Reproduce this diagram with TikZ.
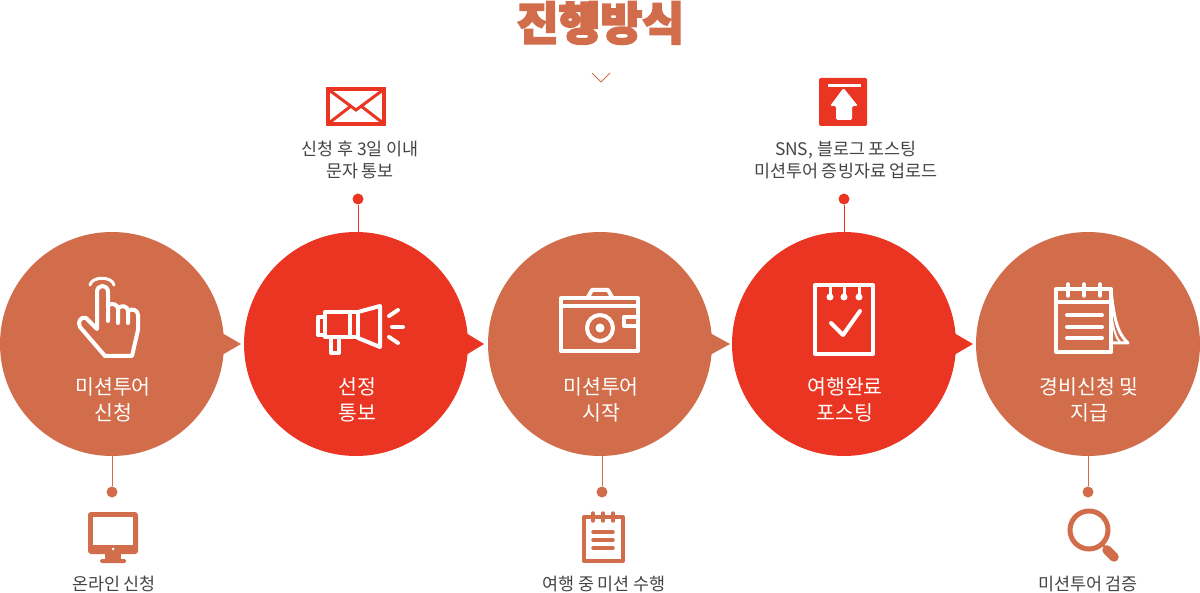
\documentclass[tikz,border=0pt]{standalone}
\usepackage{fontspec}
\setmainfont{Noto Sans CJK KR}
\newfontfamily\titlefont[BoldFeatures={FakeBold=4}]{Noto Sans CJK KR}
\definecolor{stepo}{HTML}{D16D4A}
\definecolor{stepr}{HTML}{E93522}
\definecolor{greytext}{HTML}{444444}
\tikzset{
	stepcircle/.style={circle,inner sep=0,minimum size=224,draw=none},
	steplabel/.style={text=white,align=center,inner sep=0,font=\fontsize{20.5}{25.5}\selectfont},
	sidelabel/.style={text=greytext,align=center,inner sep=0,font=\fontsize{17.4}{22.5}\selectfont},
	dotnode/.style={circle,inner sep=0,minimum size=11},
	iconline/.style={draw=white,line width=4,line cap=round,line join=round},
}
\begin{document}
\begin{tikzpicture}[x=1pt,y=-1pt]
	\useasboundingbox (0,0) rectangle (1200,593);
	\node[inner sep=0,text=stepo,font=\titlefont\bfseries\fontsize{45.5}{46}\selectfont] (title) at (600.5,23) {진행방식};
	\draw[stepo,line width=1] (592,73) -- (601,82) -- (610,73);
	% pointers
	\fill[stepo] (222,333) -- (241,344) -- (222,355) -- cycle;
	\fill[stepr] (466,333) -- (484,344) -- (466,355) -- cycle;
	\fill[stepo] (710,333) -- (730,344) -- (710,355) -- cycle;
	\fill[stepr] (954,333) -- (973,344) -- (954,355) -- cycle;
	% circles
	\node[stepcircle,fill=stepo] (stepa) at (112,344) {};
	\node[stepcircle,fill=stepr] (stepb) at (356,344) {};
	\node[stepcircle,fill=stepo] (stepc) at (600,344) {};
	\node[stepcircle,fill=stepr] (stepd) at (844,344) {};
	\node[stepcircle,fill=stepo] (stepe) at (1088,344) {};
	\node[steplabel] (labela) at (113,400) {미션투어\\신청};
	\node[steplabel] (labelb) at (357,400) {선정\\통보};
	\node[steplabel] (labelc) at (601,400) {미션투어\\시작};
	\node[steplabel] (labeld) at (845,400) {여행완료\\포스팅};
	\node[steplabel] (labele) at (1089,400) {경비신청 및\\지급};
	% dots and connectors
	\node[dotnode,fill=stepr] (dotb) at (358,199) {};
	\node[dotnode,fill=stepr] (dotd) at (844,199) {};
	\node[dotnode,fill=stepo] (dota) at (112,492) {};
	\node[dotnode,fill=stepo] (dotc) at (602,492) {};
	\node[dotnode,fill=stepo] (dote) at (1088,492) {};
	\draw[stepr] (dotb) -- (dotb |- stepb.north);
	\draw[stepr] (dotd) -- (stepd.north);
	\draw[stepo] (dota) -- (stepa.south);
	\draw[stepo] (dotc) -- (dotc |- stepc.south);
	\draw[stepo] (dote) -- (stepe.south);
	% side labels
	\node[sidelabel] (notea) at (114,584) {온라인 신청};
	\node[sidelabel] (noteb) at (360,160) {신청 후 3일 이내\\문자 통보};
	\node[sidelabel] (notec) at (604,584) {여행 중 미션 수행};
	\node[sidelabel] (noted) at (846,160) {SNS, 블로그 포스팅\\미션투어 증빙자료 업로드};
	\node[sidelabel] (notee) at (1088,584) {미션투어 검증};
	% hand
	\draw[iconline] (105,356) -- (80,327) .. controls (77,322) and (81,316) .. (86,318) -- (97,329) -- (97,292) .. controls (97,284) and (108,284) .. (108,292) -- (108,321);
	\draw[iconline] (108,305) .. controls (112,303) and (118,304) .. (118,309) -- (118,323);
	\draw[iconline] (118,308) .. controls (122,305) and (128,306) .. (128,311) -- (128,323);
	\draw[iconline] (128,311) .. controls (132,308) and (138,310) .. (138,315) -- (138,330) -- (132,356) -- (105,356);
	\draw[iconline,line width=3] (90,285) .. controls (92,276) and (112,276) .. (114,285);
	% megaphone
	\draw[iconline] (325,317) -- (318,317) -- (318,335) -- (325,335);
	\draw[iconline] (325,312) rectangle (358,337);
	\draw[iconline] (358,312) -- (380,306) -- (380,347) -- (358,338);
	\draw[iconline] (350,313) -- (350,337);
	\draw[iconline] (331,338) -- (331,353) -- (339,353) -- (339,338);
	\draw[iconline] (389,316) -- (398,310);
	\draw[iconline] (392,327) -- (403,327);
	\draw[iconline] (389,337) -- (398,343);
	% camera
	\draw[iconline] (561,298) rectangle (638,351);
	\draw[iconline] (561,306) -- (638,306);
	\draw[iconline] (588,297) -- (592,290) -- (608,290) -- (612,297);
	\draw[iconline] (600,328) circle (13);
	\fill[white] (600,328) circle (4.5);
	\draw[iconline] (638,317) -- (624,317) -- (624,326) -- (638,326);
	% notepad with check
	\draw[iconline] (815,285) rectangle (873,354);
	\foreach \ringx in {830,844,859} {
		\draw[iconline,line width=3] (\ringx,285) -- (\ringx,297);
		\fill[white] (\ringx,297) circle (3.5);
	}
	\draw[iconline] (831,323) -- (843,335) -- (860,311);
	% calendar
	\draw[iconline] (1056,289) rectangle (1111,352);
	\draw[iconline] (1056,302) -- (1111,302);
	\foreach \ringx in {1068,1084,1100} {
		\draw[iconline,line width=3.5] (\ringx,284) -- (\ringx,296);
	}
	\foreach \liney in {315,327,338} {
		\draw[iconline] (1067,\liney) -- (1102,\liney);
	}
	\draw[iconline,line width=3] (1111,291) .. controls (1114,315) and (1116,332) .. (1128,343) -- (1112,343);
	\draw[iconline,line width=2] (1112,320) .. controls (1114,330) and (1116,338) .. (1120,342);
	% envelope
	\draw[stepr,line width=3.5] (328,89) rectangle (384,124);
	\draw[stepr,line width=3] (329,90) -- (356,110) -- (383,90);
	\draw[stepr,line width=3] (329,123) -- (351,106);
	\draw[stepr,line width=3] (383,123) -- (361,106);
	% upload
	\fill[stepr,rounded corners=1.5] (819,78) rectangle (867,126);
	\fill[white] (828,84) rectangle (861,87);
	\fill[white,rounded corners=1.5] (843.5,88) -- (858,106) -- (852,106) -- (852,120) -- (836,120) -- (836,106) -- (830,106) -- cycle;
	% monitor
	\fill[stepo,rounded corners=3] (88,512) rectangle (138,554);
	\fill[white] (93,517) rectangle (133,545);
	\fill[white] (113,549) circle (1.5);
	\fill[stepo] (105,554) rectangle (121,560);
	\fill[stepo,rounded corners=1.5] (100,559) rectangle (126,563);
	% small notepad
	\draw[stepo,line width=4,line join=round] (584,517) rectangle (623,561);
	\foreach \ringx in {593,603,613} {
		\draw[stepo,line width=3.5,line cap=round] (\ringx,513) -- (\ringx,521);
	}
	\foreach \liney in {532,540,548} {
		\draw[stepo,line width=3.5,line cap=round] (593,\liney) -- (613,\liney);
	}
	% magnifier
	\draw[stepo,line width=5] (1089,530) circle (19);
	\draw[stepo,line width=2.5] (1102,544) -- (1108,550);
	\draw[stepo,line width=9.5,line cap=round] (1107,550) -- (1114,557);
\end{tikzpicture}
\end{document}
